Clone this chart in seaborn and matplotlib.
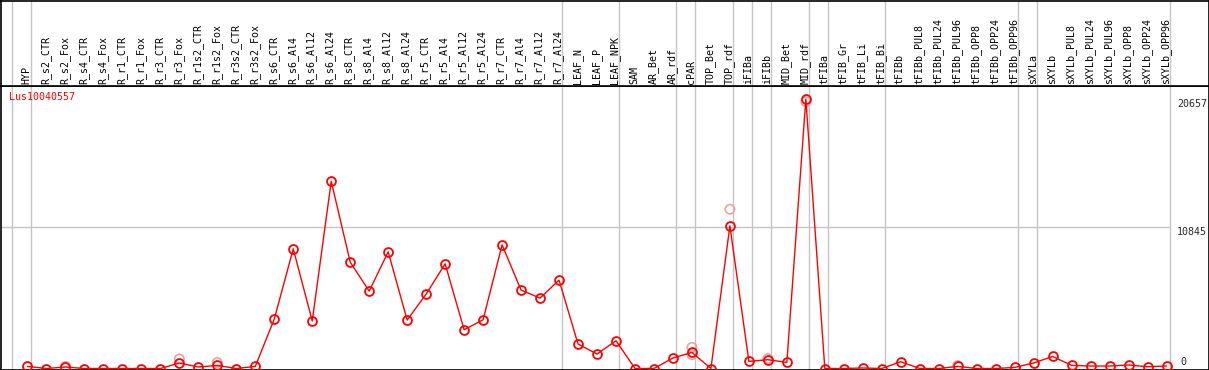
import matplotlib
matplotlib.use("Agg")
import matplotlib.pyplot as plt
import seaborn as sns
import pandas as pd

# ---------------- data ----------------
categories = ["HYP", "R_s2_CTR", "R_s2_Fox", "R_s4_CTR", "R_s4_Fox", "R_r1_CTR", "R_r1_Fox",
              "R_r3_CTR", "R_r3_Fox", "R_r1s2_CTR", "R_r1s2_Fox", "R_r3s2_CTR", "R_r3s2_Fox",
              "R_s6_CTR", "R_s6_Al4", "R_s6_Al12", "R_s6_Al24", "R_s8_CTR", "R_s8_Al4",
              "R_s8_Al12", "R_s8_Al24", "R_r5_CTR", "R_r5_Al4", "R_r5_Al12", "R_r5_Al24",
              "R_r7_CTR", "R_r7_Al4", "R_r7_Al12", "R_r7_Al24", "LEAF_N", "LEAF_P", "LEAF_NPK",
              "SAM", "AR_Bet", "AR_rdf", "cPAR", "TOP_Bet", "TOP_rdf", "iFIBa", "iFIBb",
              "MID_Bet", "MID_rdf", "tFIBa", "tFIB_Gr", "tFIB_Li", "tFIB_Bi", "tFIBb",
              "tFIBb_PUL8", "tFIBb_PUL24", "tFIBb_PUL96", "tFIBb_OPP8", "tFIBb_OPP24",
              "tFIBb_OPP96", "sXYLa", "sXYLb", "sXYLb_PUL8", "sXYLb_PUL24", "sXYLb_PUL96",
              "sXYLb_OPP8", "sXYLb_OPP24", "sXYLb_OPP96"]

values = [160, 0, 115, 0, 0, 0, 0, 0, 420, 115, 237, 0, 160,
          3790, 9172, 3637, 14355, 8154, 5933, 8942, 3713, 5704, 8023, 2971, 3736,
          9478, 6010, 5397, 6776,
          1876, 1110, 2128,
          0, 0, 804, 1233, 0, 10933, 544, 674, 467, 20657,
          0, 0, 40, 0, 521, 0, 0, 160, 0, 0, 84,
          421, 926, 237, 191, 191, 268, 138, 191]

rep_categories = ["R_s2_Fox", "R_r3_Fox", "R_r1s2_Fox", "cPAR", "cPAR", "TOP_rdf",
                  "iFIBb", "MID_rdf", "tFIBb_PUL96"]
rep_values = [160, 727, 467, 1615, 1057, 12211, 760, 20450, 220]

# indices of last category in each group (group separators)
group_ends = [-1, 0, 28, 31, 34, 35, 37, 38, 39, 41, 42, 45, 52, 53, 60]

gene = "Lus10040557"
ytick_labels = ["20657", "10845", "0"]

# ---------------- figure ----------------
W, H = 1209, 370
fig = plt.figure(figsize=(W / 100, H / 100), dpi=100)
sns.set_style("white")
plt.rcParams["font.family"] = ["DejaVu Sans Mono", "DejaVu Sans"]

header_px = 86
ax = fig.add_axes([0.5 / W, 0.5 / H, 1 - 1 / W, (H - header_px - 0.5) / H])
hax = fig.add_axes([0.5 / W, (H - header_px) / H, 1 - 1 / W, (header_px - 0.5) / H])

x0_px, dx_px = 27.0, 19.0
xmin = -x0_px / dx_px
xmax = (W - x0_px) / dx_px
for a in (ax, hax):
    a.set_xlim(xmin, xmax)
    a.set_xticks([])
    a.set_yticks([])
    for s in a.spines.values():
        s.set_color("black")
        s.set_linewidth(1.2)

per_px = 20657 / (368.8 - 99.0)
ax.set_ylim(-1.0 * per_px, 20657 + (99.0 - header_px) * per_px)
hax.set_ylim(0, header_px)

grid_col = "#c4c4c4"
for g in group_ends:
    for a in (ax, hax):
        a.axvline(g + 0.17, color=grid_col, lw=1.0, zorder=0)
ax.plot([xmin, 60.17], [10845, 10845], color=grid_col, lw=1.0, zorder=0)

df = pd.DataFrame({"x": range(len(categories)), "y": values})
pos = {c: i for i, c in enumerate(categories)}
rdf = pd.DataFrame({"x": [pos[c] for c in rep_categories], "y": rep_values})

sns.scatterplot(data=rdf, x="x", y="y", ax=ax, marker="o", s=45,
                facecolor="none", edgecolor="#f0a0a0", linewidth=1.2, zorder=2, legend=False)
sns.lineplot(data=df, x="x", y="y", ax=ax, color="#ff0000", lw=1.0, marker="o",
             markersize=6.4, markerfacecolor="none", markeredgecolor="#ff0000",
             markeredgewidth=1.3, zorder=3, legend=False)
ax.set_xlabel("")
ax.set_ylabel("")
ax.set_xlim(xmin, xmax)
ax.set_xticks([])
ax.set_yticks([])

# category labels in header
for i, c in enumerate(categories):
    hax.text(i - 0.05, 2.5, c, rotation=90, ha="center", va="bottom",
             fontsize=7.2, color="black")

# gene name
fig.text(9 / W, 1 - 97 / H, gene, color="#ff0000", fontsize=7.2, ha="left", va="center")

# value labels at right
fig.text(1177 / W, 1 - 99 / H, ytick_labels[0], ha="left", va="top", fontsize=7.2)
fig.text(1177 / W, 1 - 227 / H, ytick_labels[1], ha="left", va="top", fontsize=7.2)
fig.text(1183 / W, 1 - 367 / H, ytick_labels[2], ha="center", va="bottom", fontsize=7.2)

fig.savefig("out.png", dpi=100)
